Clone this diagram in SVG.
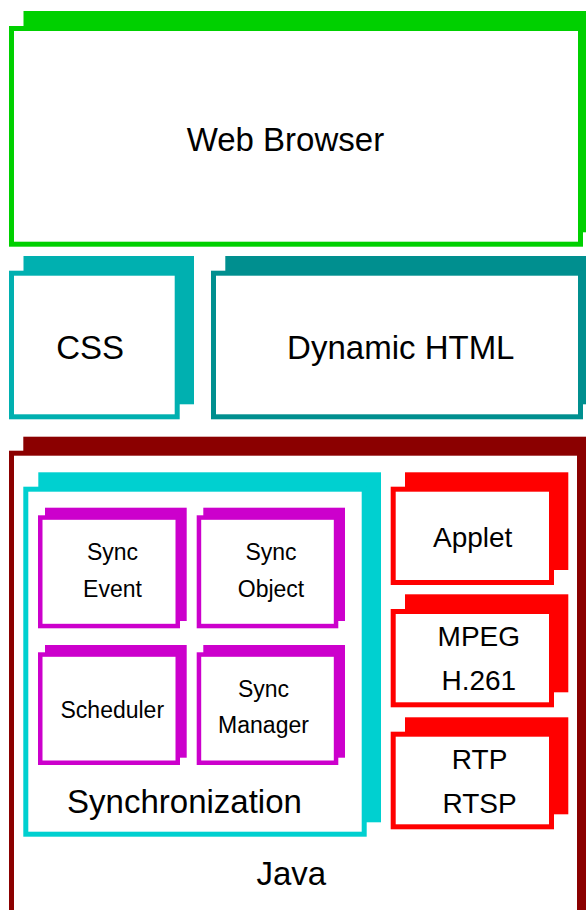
<svg xmlns="http://www.w3.org/2000/svg" width="586" height="910" viewBox="0 0 586 910">
<style>
text{font-family:"Liberation Sans",Arial,sans-serif;fill:#000;text-anchor:middle}
.big{font-size:33px}
.mid{font-size:28px}
.sm{font-size:23px}
.front{fill:#fff;stroke-width:5}
.green{fill:#00d000}.greenS{stroke:#00d000}
.css{fill:#00b0b0}.cssS{stroke:#00b0b0}
.dh{fill:#008f8f}.dhS{stroke:#008f8f}
.java{fill:#8b0000}.javaS{stroke:#8b0000}
.cy{fill:#00d0d0}.cyS{stroke:#00d0d0}
.mg{fill:#cc00cc}.mgS{stroke:#cc00cc;stroke-width:4.5}
.rd{fill:#ff0000}.rdS{stroke:#ff0000}
</style>
<rect width="586" height="910" fill="#fff"/>
<g id="web-browser">
<rect class="green" x="23.5" y="11" width="570" height="221.3"/>
<rect class="front greenS" x="11.5" y="28.5" width="569" height="215.7"/>
<text class="big" x="285.4" y="151">Web Browser</text>
</g>
<g id="css">
<rect class="css" x="23.5" y="256" width="170.5" height="148.3"/>
<rect class="front cssS" x="11.5" y="273.2" width="165.7" height="143.6"/>
<text class="big" x="90.2" y="359">CSS</text>
</g>
<g id="dynamic-html">
<rect class="dh" x="225.3" y="256" width="370" height="148.3"/>
<rect class="front dhS" x="213.5" y="273.2" width="367" height="143.6"/>
<text class="big" x="400.8" y="359">Dynamic HTML</text>
</g>
<g id="java">
<rect class="java" x="23.3" y="436.7" width="570" height="500"/>
<rect class="front javaS" x="11.5" y="453.2" width="568" height="500"/>
<text class="big" x="291.3" y="885">Java</text>
</g>
<g id="synchronization">
<rect class="cy" x="38.3" y="472.3" width="342.7" height="350"/>
<rect class="front cyS" x="25.8" y="489.2" width="338.4" height="345"/>
<text class="big" x="184.5" y="813">Synchronization</text>
</g>
<g id="sync-event">
<rect class="mg" x="45" y="507.7" width="141.7" height="113.3"/>
<rect class="front mgS" x="40.25" y="517.55" width="137.5" height="108.5"/>
<text class="sm" x="112.5" y="560">Sync</text>
<text class="sm" x="112.5" y="596.7">Event</text>
</g>
<g id="sync-object">
<rect class="mg" x="203.3" y="507.7" width="141.7" height="113.3"/>
<rect class="front mgS" x="198.95" y="517.55" width="137.1" height="108.5"/>
<text class="sm" x="271" y="560">Sync</text>
<text class="sm" x="271" y="596.7">Object</text>
</g>
<g id="scheduler">
<rect class="mg" x="45" y="645" width="141.7" height="112.7"/>
<rect class="front mgS" x="40.25" y="654.55" width="137.5" height="108.2"/>
<text class="sm" x="112.3" y="718.3">Scheduler</text>
</g>
<g id="sync-manager">
<rect class="mg" x="203.3" y="645" width="141.7" height="112.7"/>
<rect class="front mgS" x="198.95" y="654.55" width="137.1" height="108.2"/>
<text class="sm" x="263.5" y="696.7">Sync</text>
<text class="sm" x="263.5" y="733.3">Manager</text>
</g>
<g id="applet">
<rect class="rd" x="405" y="472.3" width="163.3" height="97.7"/>
<rect class="front rdS" x="393.2" y="489.2" width="158.3" height="93.3"/>
<text class="mid" x="472.7" y="546.7">Applet</text>
</g>
<g id="mpeg">
<rect class="rd" x="405" y="594.3" width="163.3" height="98"/>
<rect class="front rdS" x="393.2" y="611.5" width="158.3" height="93.3"/>
<text class="mid" x="478.8" y="646">MPEG</text>
<text class="mid" x="478.8" y="690">H.261</text>
</g>
<g id="rtp">
<rect class="rd" x="405" y="717.3" width="163.3" height="97"/>
<rect class="front rdS" x="393.2" y="734.2" width="158.3" height="92.6"/>
<text class="mid" x="479.6" y="769.3">RTP</text>
<text class="mid" x="479.6" y="812.7">RTSP</text>
</g>
<g id="connectors"/>
</svg>
